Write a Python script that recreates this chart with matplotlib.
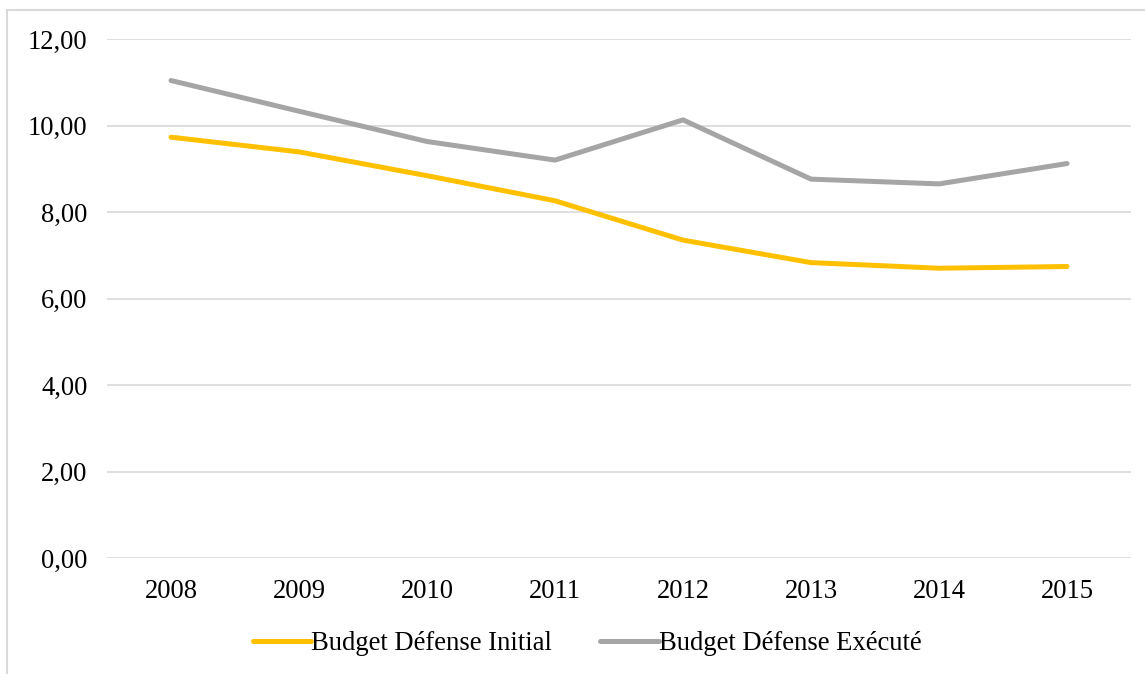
import matplotlib.pyplot as plt
from matplotlib.patches import Rectangle

years = ['2008', '2009', '2010', '2011', '2012', '2013', '2014', '2015']
initial = [9.73, 9.39, 8.84, 8.26, 7.35, 6.83, 6.70, 6.74]
execute = [11.04, 10.33, 9.63, 9.20, 10.13, 8.76, 8.65, 9.12]

plt.rcParams['font.family'] = ['Liberation Serif', 'DejaVu Serif']
FS = 19.2

fig = plt.figure(figsize=(11.45, 6.74), dpi=100)
# Outer chart frame (light gray)
fig.patches.append(Rectangle((7 / 1145, -0.1), 1.2, 1 - 10 / 674 + 0.1,
                             transform=fig.transFigure, fill=False,
                             edgecolor='#D9D9D9', linewidth=1.5))

ax = fig.add_axes([107 / 1145, 1 - 558 / 674, (1131 - 107) / 1145, (558 - 39) / 674])
x = range(len(years))
ax.plot(x, initial, color='#FFC000', linewidth=3.6, solid_capstyle='round',
        label='Budget Défense Initial')
ax.plot(x, execute, color='#A5A5A5', linewidth=3.6, solid_capstyle='round',
        label='Budget Défense Exécuté')

ax.set_xlim(-0.5, len(years) - 0.5)
ax.set_ylim(0, 12)
ax.set_xticks(list(x))
ax.set_xticklabels(years)
yticks = [0, 2, 4, 6, 8, 10, 12]
ax.set_yticks(yticks)
ax.set_yticklabels([('%.2f' % v).replace('.', ',') for v in yticks])
ax.grid(axis='y', color='#D9D9D9', linewidth=1.2)
ax.set_axisbelow(True)
for s in ax.spines.values():
    s.set_visible(False)
ax.tick_params(axis='both', length=0, labelsize=FS)
ax.tick_params(axis='y', pad=14)
ax.tick_params(axis='x', pad=15)

ax.legend(loc='center', bbox_to_anchor=(587 / 1145, 1 - 644 / 674),
          bbox_transform=fig.transFigure, ncol=2, frameon=False,
          fontsize=FS, handlelength=2.2, handletextpad=0.0, columnspacing=1.8)

fig.savefig('out.png', dpi=100)
